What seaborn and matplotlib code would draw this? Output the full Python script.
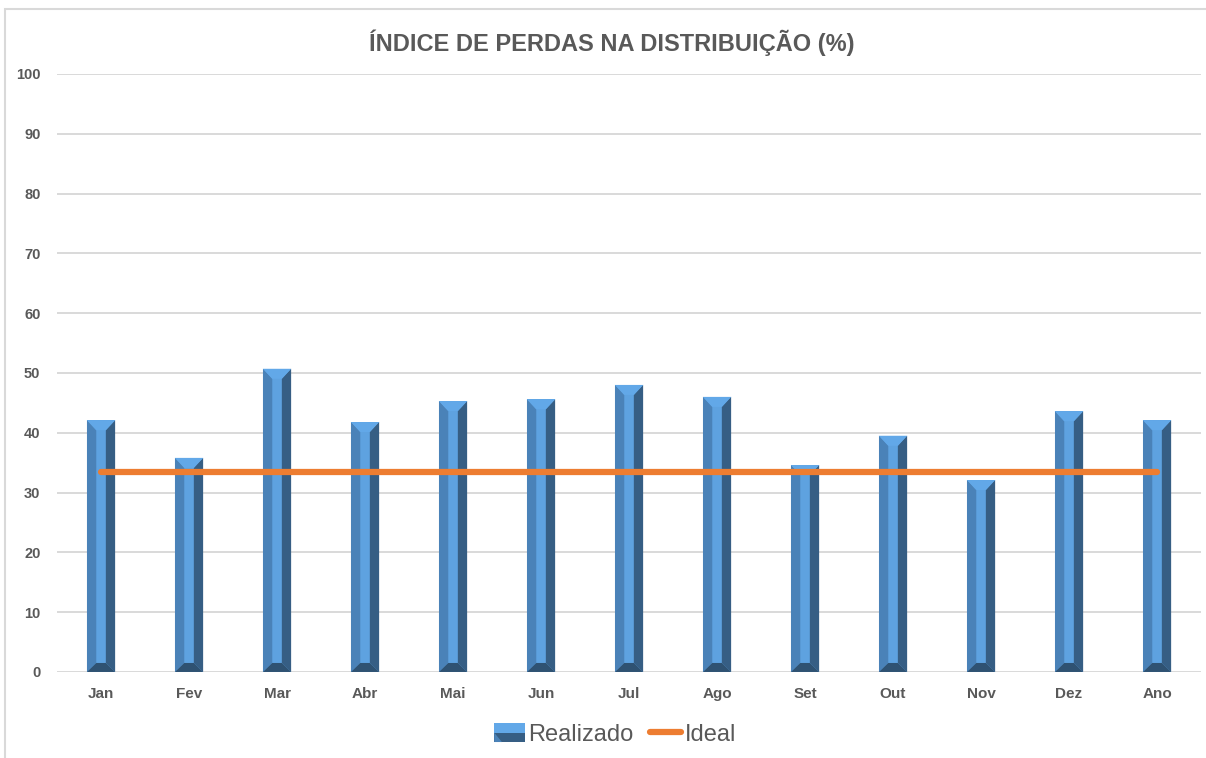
import matplotlib
matplotlib.use("Agg")
import matplotlib.pyplot as plt
from matplotlib.patches import Polygon, Rectangle
from matplotlib.lines import Line2D
from matplotlib.legend_handler import HandlerBase
import seaborn as sns
import pandas as pd

# ── Data ────────────────────────────────────────────────
meses = ["Jan", "Fev", "Mar", "Abr", "Mai", "Jun", "Jul",
         "Ago", "Set", "Out", "Nov", "Dez", "Ano"]
realizado = [42.1, 35.8, 50.7, 41.8, 45.3, 45.6, 48.0,
             46.0, 34.6, 39.5, 32.1, 43.6, 42.1]
ideal = [33.4] * len(meses)
y_ticks = list(range(0, 101, 10))

TITLE = "ÍNDICE DE PERDAS NA DISTRIBUIÇÃO (%)"
GREY = "#595959"
C_LEFT, C_MID, C_RIGHT = "#4A82B8", "#5EA2E0", "#365E84"
C_TOP, C_BOT = "#62A8E8", "#2F5272"
ORANGE = "#ED7D31"
FONTS = ["Liberation Sans", "DejaVu Sans"]

sns.set_theme(style="white")
plt.rcParams["font.family"] = FONTS

df = pd.DataFrame({"Mes": meses, "Realizado": realizado, "Ideal": ideal})

fig = plt.figure(figsize=(12.06, 7.58), dpi=100)
ax = fig.add_axes([0.0473, 0.1135, 0.9486, 0.7889])

sns.barplot(data=df, x="Mes", y="Realizado", color=C_MID, width=0.32,
            saturation=1, ax=ax, zorder=2, linewidth=0)

# bevel effect built from the bars seaborn drew
px_per_unit = 598 / 100.0
for bar in ax.patches:
    x0, w, h = bar.get_x(), bar.get_width(), bar.get_height()
    x1 = x0 + w
    s = w * 0.33
    dy_top = 10 / px_per_unit
    dy_bot = 9 / px_per_unit
    # left / right sides
    ax.add_patch(Polygon([(x0, 0), (x0 + s, dy_bot), (x0 + s, h - dy_top), (x0, h)],
                         closed=True, color=C_LEFT, lw=0, zorder=3))
    ax.add_patch(Polygon([(x1, 0), (x1 - s, dy_bot), (x1 - s, h - dy_top), (x1, h)],
                         closed=True, color=C_RIGHT, lw=0, zorder=3))
    # top and bottom bevels
    ax.add_patch(Polygon([(x0, h), (x1, h), (x1 - s, h - dy_top), (x0 + s, h - dy_top)],
                         closed=True, color=C_TOP, lw=0, zorder=3))
    ax.add_patch(Polygon([(x0, 0), (x1, 0), (x1 - s, dy_bot), (x0 + s, dy_bot)],
                         closed=True, color=C_BOT, lw=0, zorder=3))

sns.lineplot(data=df, x="Mes", y="Ideal", color=ORANGE, linewidth=4.5,
             ax=ax, zorder=4, solid_capstyle="round", sort=False)

ax.set_ylim(0, 100)
ax.set_xlim(-0.5, len(meses) - 0.5)
ax.set_yticks(y_ticks)
ax.set_yticklabels([str(t) for t in y_ticks], fontsize=10.5, fontweight="bold", color=GREY)
ax.tick_params(axis="x", labelsize=11, colors=GREY, pad=11, length=0)
ax.tick_params(axis="y", pad=12, length=0)
for lbl in ax.get_xticklabels():
    lbl.set_fontweight("bold")
ax.set_xlabel("")
ax.set_ylabel("")
ax.grid(axis="y", color="#D9D9D9", linewidth=1.4, zorder=0)
ax.set_axisbelow(True)
for sp in ax.spines.values():
    sp.set_visible(False)

fig.text(0.507, 0.944, TITLE, ha="center", va="center", fontsize=17,
         fontweight="bold", color=GREY)

# chart frame
fig.patches.append(Rectangle((5 / 1206, -0.05), 1.1, 0.05 + 1 - 9 / 758,
                             transform=fig.transFigure, fill=False,
                             edgecolor="#D9D9D9", linewidth=1.5))


class BevelHandler(HandlerBase):
    def create_artists(self, legend, orig_handle, xd, yd, width, height, fontsize, trans):
        x0, y0, x1, y1 = -xd, -yd, -xd + width, -yd + height
        ym = y0 + height * 0.5
        top = Polygon([(x0, y1), (x1, y1), (x1, ym), (x0, ym)], closed=True,
                      color=C_TOP, lw=0, transform=trans)
        bot = Polygon([(x0, y0), (x1, y0), (x1, ym), (x0, ym)], closed=True,
                      color=C_RIGHT, lw=0, transform=trans)
        mid = Polygon([(x0, ym), (x0 + width * 0.25, y0), (x0, y0)], closed=True,
                      color=C_LEFT, lw=0, transform=trans)
        return [top, bot, mid]


bar_handle = Rectangle((0, 0), 1, 1)
line_handle = Line2D([0], [0], color=ORANGE, linewidth=4.5, solid_capstyle="round")
leg = fig.legend([bar_handle, line_handle], ["Realizado", "Ideal"],
                 handler_map={Rectangle: BevelHandler()},
                 loc="center", bbox_to_anchor=(0.51, 0.031), ncol=2, frameon=False,
                 fontsize=17, handlelength=1.3, handleheight=0.85,
                 handletextpad=0.15, columnspacing=0.7)
for t in leg.get_texts():
    t.set_color(GREY)

fig.savefig("out.png", dpi=100, facecolor="white")
